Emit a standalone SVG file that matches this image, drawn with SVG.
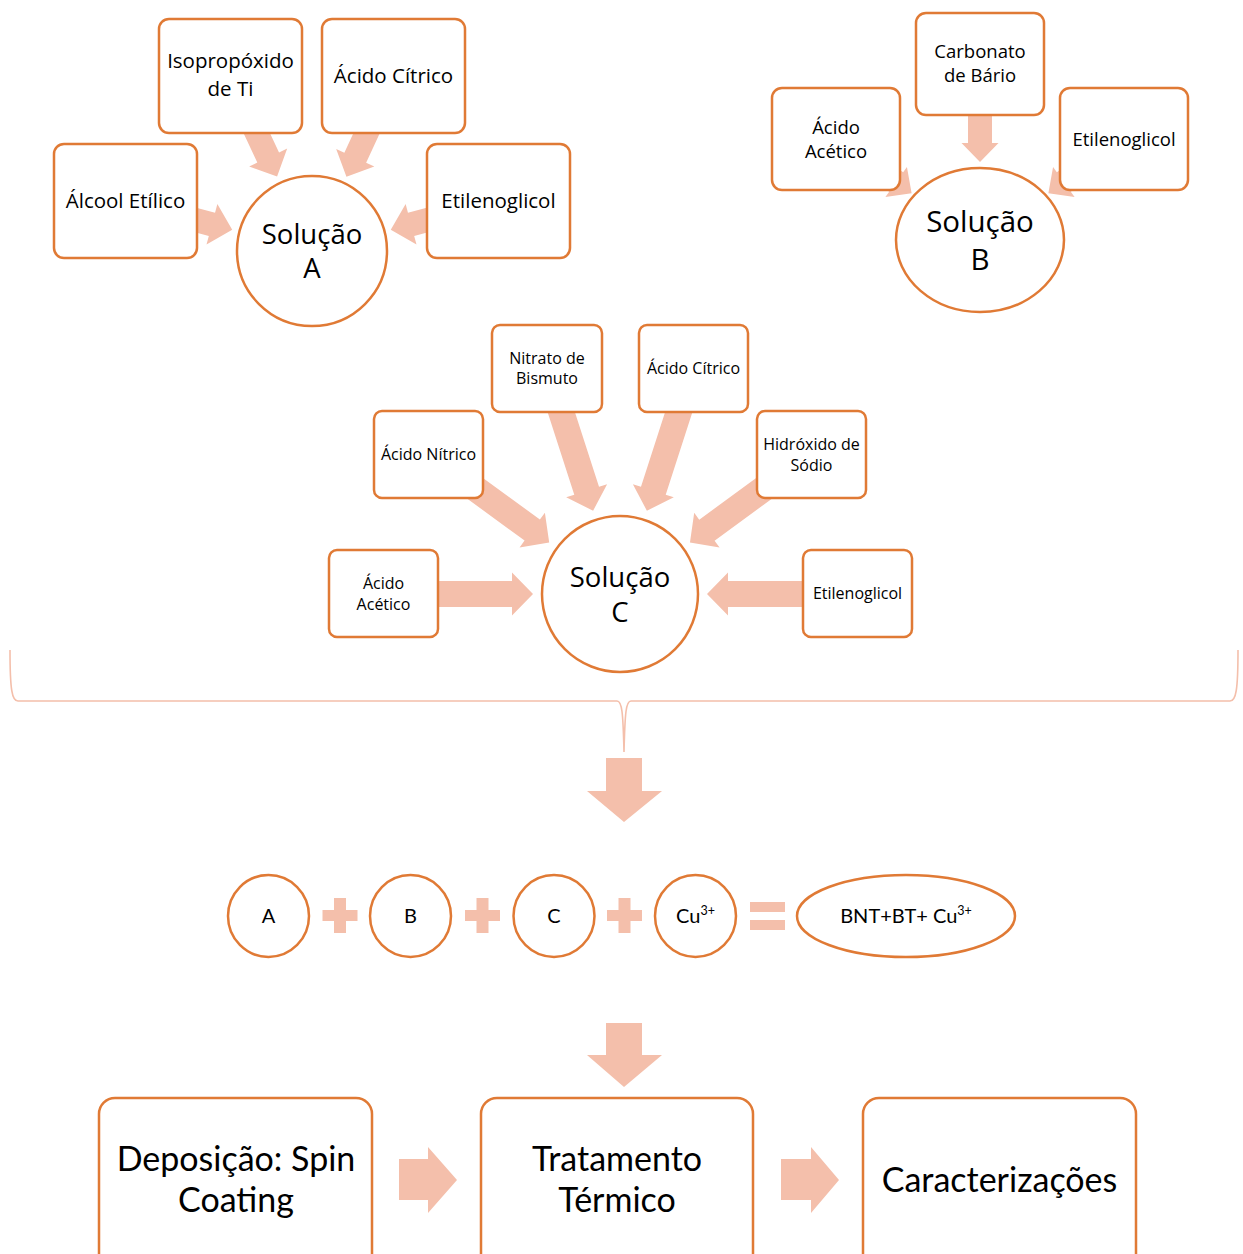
<svg xmlns="http://www.w3.org/2000/svg" xmlns:xlink="http://www.w3.org/1999/xlink" width="1243" height="1254" viewBox="0 0 1243 1254">
<style>
.box{fill:#fff;stroke:#E07A35;stroke-width:2.5}
.arr{fill:#F4BFAB}
.brace{fill:none;stroke:#F4BFAB;stroke-width:1.6}
.t{font-family:"Open Sans","Noto Sans",sans-serif;fill:#000;text-anchor:middle}
.c{font-family:Lato,"Liberation Sans",sans-serif;fill:#000;text-anchor:middle}
.s21{font-size:20.5px}
.s18{font-size:18.5px}
.s16{font-size:16px}
.big{font-size:27.5px}
.eq{font-size:20px}
.proc{font-size:34px}
</style>
<defs>
<polygon id="arrA" points="0,-12 90,-12 90,-21 111,0 90,21 90,12 0,12"/>
<polygon id="arrC" points="0,-13 129,-13 129,-21.5 150,0 129,21.5 129,13 0,13"/>
<path id="plus" d="M-6,-17.5 H6 V-5.5 H17.5 V5.5 H6 V17.5 H-6 V5.5 H-17.5 V-5.5 H-6 Z"/>
</defs>
<rect width="1243" height="1254" fill="#fff"/>
<g id="connectors" class="arr">
  <use xlink:href="#arrA" href="#arrA" transform="translate(230,76) rotate(64.9)"/>
  <use xlink:href="#arrA" href="#arrA" transform="translate(393,76) rotate(114.8)"/>
  <use xlink:href="#arrA" href="#arrA" transform="translate(125,201) rotate(15)"/>
  <use xlink:href="#arrA" href="#arrA" transform="translate(498,201) rotate(165)"/>
  <polygon transform="translate(980,64) rotate(90)" points="0,-12 79,-12 79,-18.5 98,0 79,18.5 79,12 0,12"/>
  <polygon transform="translate(836,139) rotate(35.6)" points="0,-12 74,-12 74,-18.5 93,0 74,18.5 74,12 0,12"/>
  <polygon transform="translate(1124,139) rotate(144.4)" points="0,-12 74,-12 74,-18.5 93,0 74,18.5 74,12 0,12"/>
  <use xlink:href="#arrC" href="#arrC" transform="translate(547,368) rotate(72.1)"/>
  <use xlink:href="#arrC" href="#arrC" transform="translate(693,368) rotate(107.9)"/>
  <use xlink:href="#arrC" href="#arrC" transform="translate(428,454) rotate(36.1)"/>
  <use xlink:href="#arrC" href="#arrC" transform="translate(811,454) rotate(143.8)"/>
  <use xlink:href="#arrC" href="#arrC" transform="translate(383,594) rotate(0)"/>
  <use xlink:href="#arrC" href="#arrC" transform="translate(857,594) rotate(180)"/>
  <path class="brace" d="M10,650 C10,690 12,701 18,701 L617,701 C622,701 623,712 624,752 C625,712 626,701 631,701 L1230,701 C1236,701 1238,690 1238,650"/>
  <polygon points="606,758 642,758 642,791 662,791 624,822 587,791 606,791"/>
  <polygon points="606,1023 642,1023 642,1055 662,1055 624,1087 587,1055 606,1055"/>
  <use xlink:href="#plus" href="#plus" transform="translate(340,915.5)"/>
  <use xlink:href="#plus" href="#plus" transform="translate(482.5,915.5)"/>
  <use xlink:href="#plus" href="#plus" transform="translate(624.5,915.5)"/>
  <rect x="750" y="902" width="35" height="10"/>
  <rect x="750" y="920" width="35" height="10"/>
  <polygon points="399,1159 428,1159 428,1147 457,1180 428,1213 428,1200 399,1200"/>
  <polygon points="781,1159 811,1159 811,1147 839,1180 811,1213 811,1200 781,1200"/>
</g>

<g id="isopropoxido">
  <rect class="box" x="159" y="19" width="143" height="114" rx="10"/>
  <text class="t s21"><tspan x="230.5" y="68">Isopropóxido</tspan><tspan x="230.5" y="96">de Ti</tspan></text>
</g>
<g id="acido-citrico-a">
  <rect class="box" x="322" y="19" width="143" height="114" rx="10"/>
  <text class="t s21" x="393.5" y="83">Ácido Cítrico</text>
</g>
<g id="alcool-etilico">
  <rect class="box" x="54" y="144" width="143" height="114" rx="10"/>
  <text class="t s21" x="125.5" y="208">Álcool Etílico</text>
</g>
<g id="etilenoglicol-a">
  <rect class="box" x="427" y="144" width="143" height="114" rx="10"/>
  <text class="t s21" x="498.5" y="208">Etilenoglicol</text>
</g>
<g id="solucao-a">
  <circle class="box" cx="312" cy="251" r="75"/>
  <text class="t big"><tspan x="312" y="244">Solução</tspan><tspan x="312" y="278">A</tspan></text>
</g>

<g id="carbonato-bario">
  <rect class="box" x="916" y="13" width="128" height="102" rx="10"/>
  <text class="t s18"><tspan x="980" y="58">Carbonato</tspan><tspan x="980" y="82">de Bário</tspan></text>
</g>
<g id="acido-acetico-b">
  <rect class="box" x="772" y="88" width="128" height="102" rx="10"/>
  <text class="t s18"><tspan x="836" y="134">Ácido</tspan><tspan x="836" y="158">Acético</tspan></text>
</g>
<g id="etilenoglicol-b">
  <rect class="box" x="1060" y="88" width="128" height="102" rx="10"/>
  <text class="t s18" x="1124" y="146">Etilenoglicol</text>
</g>
<g id="solucao-b">
  <ellipse class="box" cx="980" cy="240" rx="84" ry="72"/>
  <text class="t" style="font-size:29.5px"><tspan x="980" y="232">Solução</tspan><tspan x="980" y="270">B</tspan></text>
</g>

<g id="nitrato-bismuto">
  <rect class="box" x="492" y="325" width="110" height="87" rx="8"/>
  <text class="t s16"><tspan x="547" y="364">Nitrato de</tspan><tspan x="547" y="384">Bismuto</tspan></text>
</g>
<g id="acido-citrico-c">
  <rect class="box" x="639" y="325" width="109" height="87" rx="8"/>
  <text class="t s16" x="693.5" y="374">Ácido Cítrico</text>
</g>
<g id="acido-nitrico">
  <rect class="box" x="374" y="411" width="109" height="87" rx="8"/>
  <text class="t s16" x="428.5" y="460">Ácido Nítrico</text>
</g>
<g id="hidroxido-sodio">
  <rect class="box" x="757" y="411" width="109" height="87" rx="8"/>
  <text class="t s16"><tspan x="811.5" y="450">Hidróxido de</tspan><tspan x="811.5" y="471">Sódio</tspan></text>
</g>
<g id="acido-acetico-c">
  <rect class="box" x="329" y="550" width="109" height="87" rx="8"/>
  <text class="t s16"><tspan x="383.5" y="589">Ácido</tspan><tspan x="383.5" y="610">Acético</tspan></text>
</g>
<g id="etilenoglicol-c">
  <rect class="box" x="803" y="550" width="109" height="87" rx="8"/>
  <text class="t s16" x="857.5" y="599">Etilenoglicol</text>
</g>
<g id="solucao-c">
  <circle class="box" cx="620" cy="594" r="78"/>
  <text class="t big"><tspan x="620" y="587">Solução</tspan><tspan x="620" y="622">C</tspan></text>
</g>

<g id="eq-a">
  <ellipse class="box" cx="268.5" cy="916" rx="40.5" ry="41"/>
  <text class="c eq" x="268.5" y="923">A</text>
</g>
<g id="eq-b">
  <ellipse class="box" cx="410.5" cy="916" rx="40.5" ry="41"/>
  <text class="c eq" x="410.5" y="923">B</text>
</g>
<g id="eq-c">
  <ellipse class="box" cx="554" cy="916" rx="40.5" ry="41"/>
  <text class="c eq" x="554" y="923">C</text>
</g>
<g id="eq-cu">
  <ellipse class="box" cx="695.5" cy="916" rx="40.5" ry="41"/>
  <text class="c eq" x="695.5" y="923">Cu<tspan dy="-8" style="font-size:12.5px">3+</tspan></text>
</g>
<g id="eq-result">
  <ellipse class="box" cx="906" cy="916" rx="109" ry="41"/>
  <text class="c eq" x="906" y="923">BNT+BT+ Cu<tspan dy="-8" style="font-size:12.5px">3+</tspan></text>
</g>

<g id="deposicao">
  <rect class="box" x="99" y="1098" width="273" height="175" rx="16"/>
  <text class="c proc"><tspan x="236" y="1171">Deposição: Spin</tspan><tspan x="236" y="1212">Coating</tspan></text>
</g>
<g id="tratamento">
  <rect class="box" x="481" y="1098" width="272" height="175" rx="16"/>
  <text class="c proc"><tspan x="617" y="1171">Tratamento</tspan><tspan x="617" y="1212">Térmico</tspan></text>
</g>
<g id="caracterizacoes">
  <rect class="box" x="863" y="1098" width="273" height="175" rx="16"/>
  <text class="c proc" x="999.5" y="1192">Caracterizações</text>
</g>
</svg>
